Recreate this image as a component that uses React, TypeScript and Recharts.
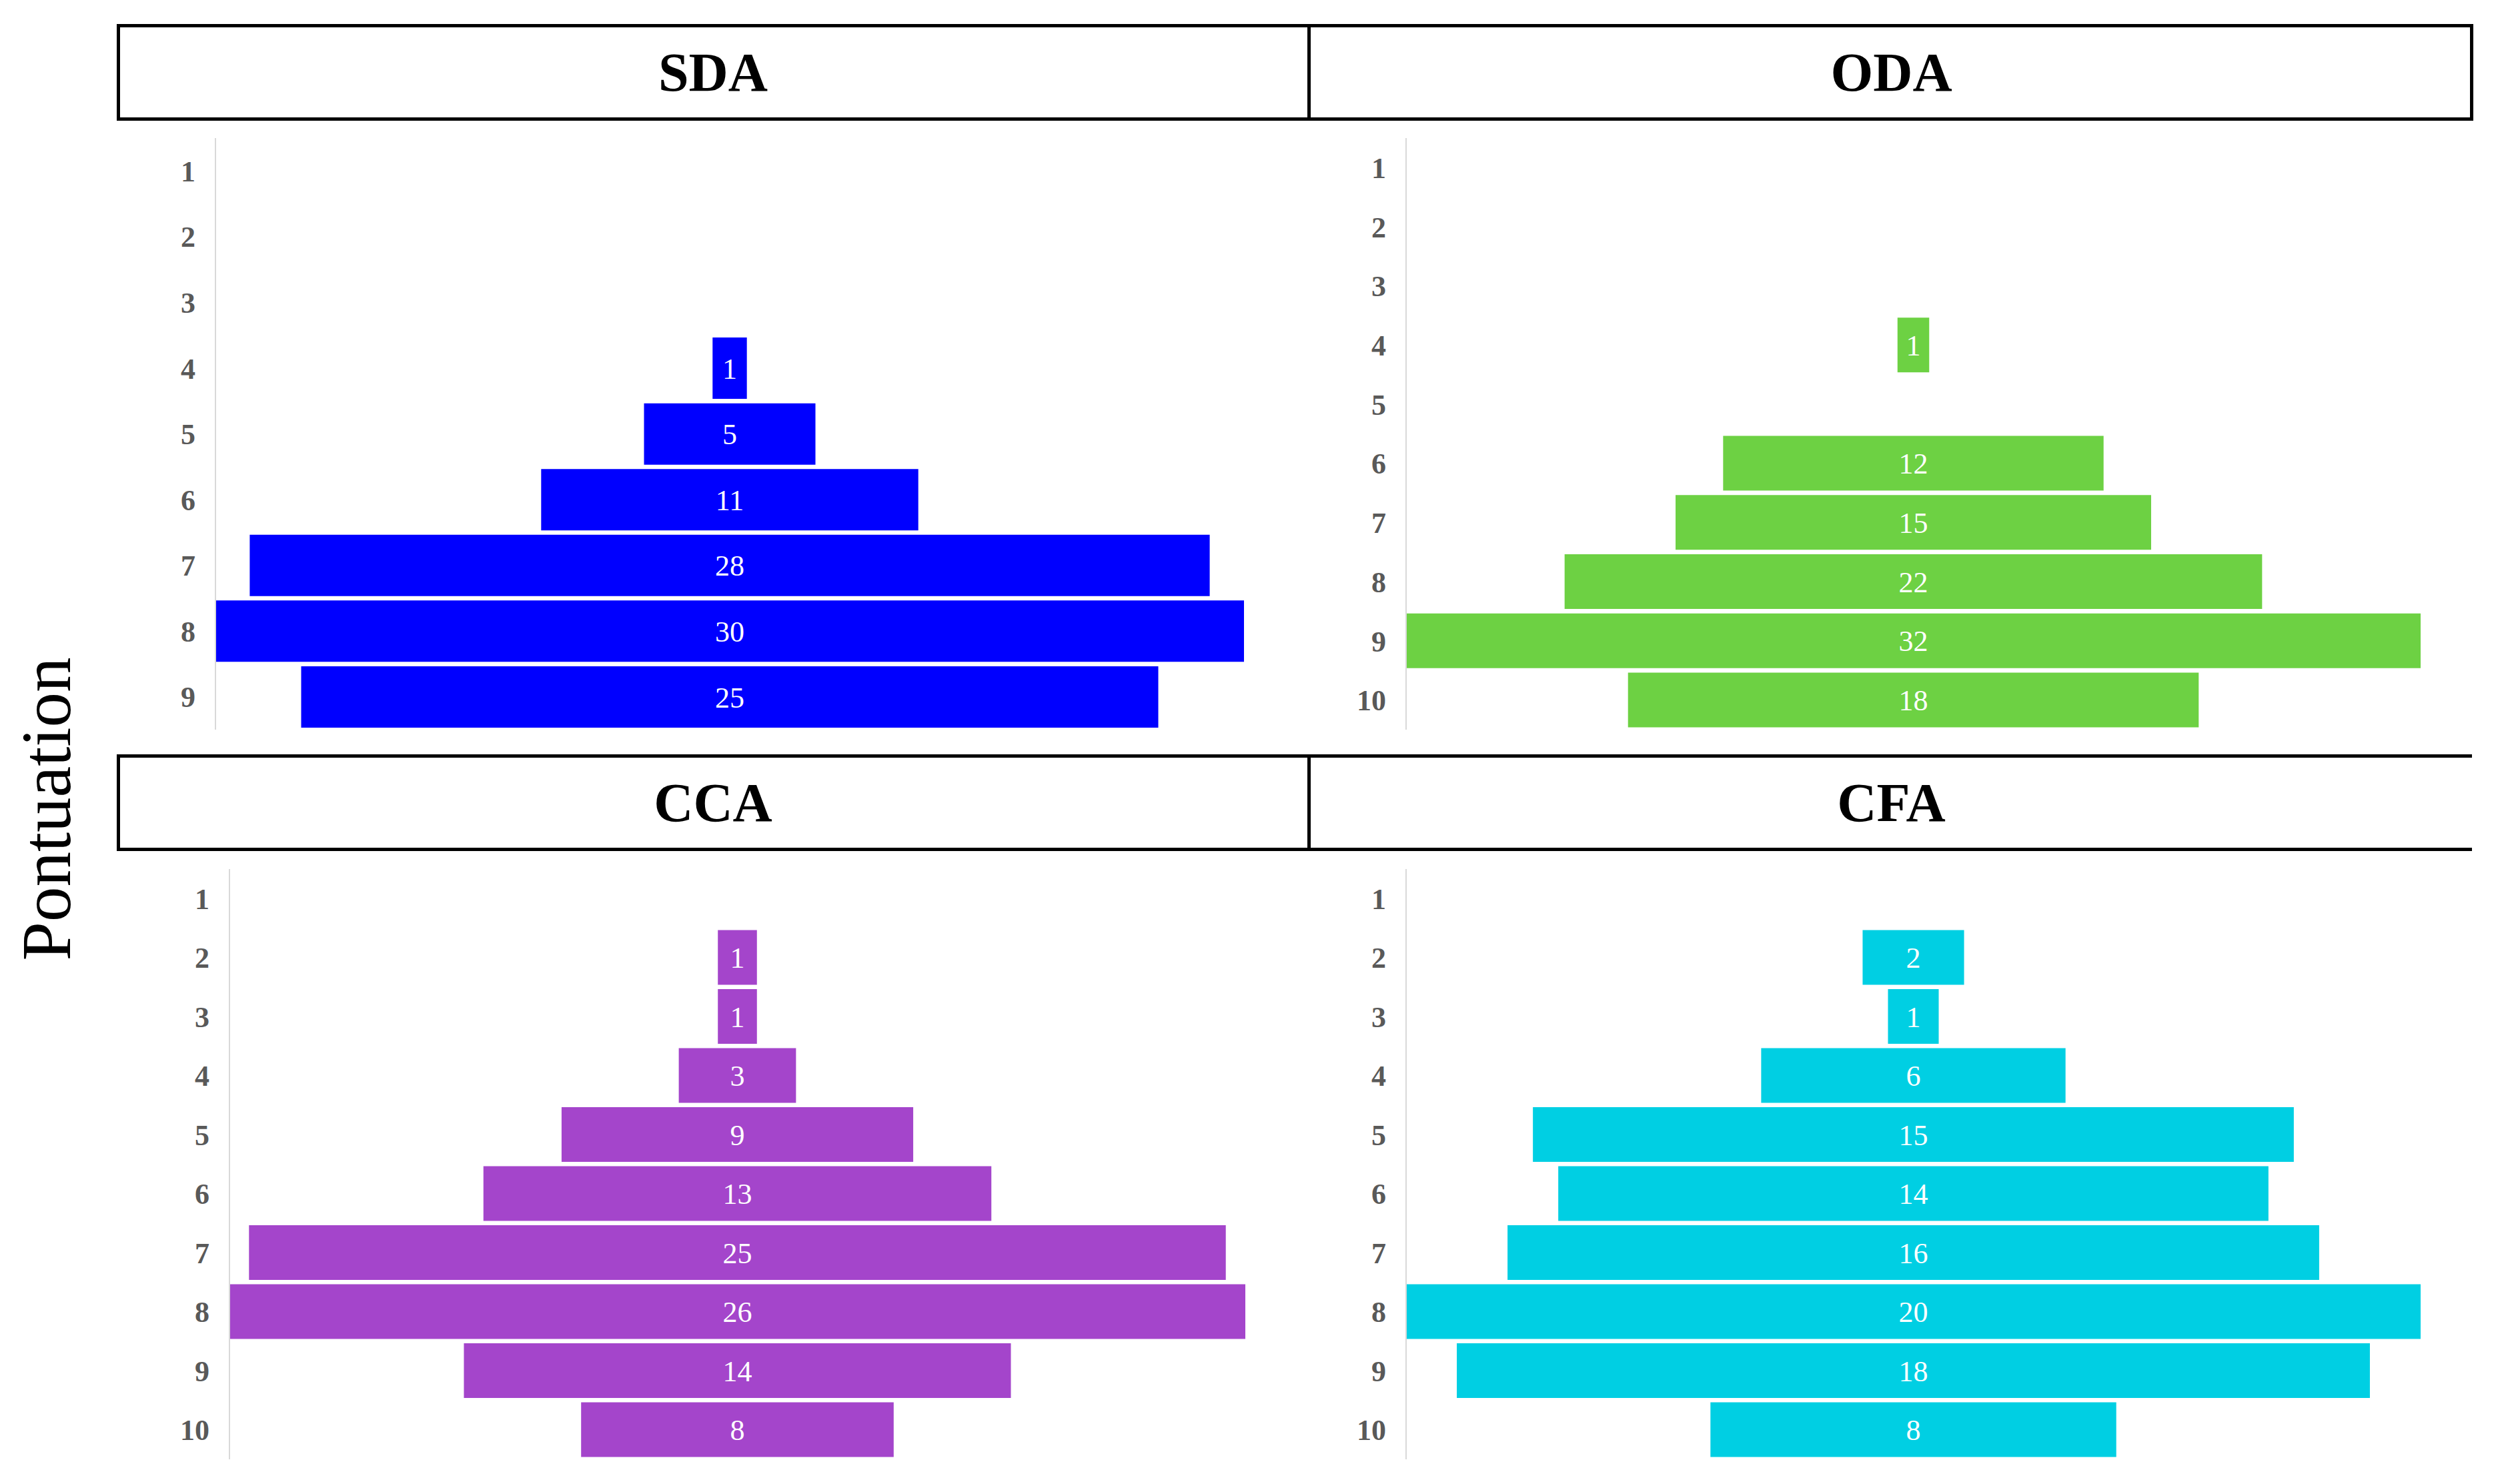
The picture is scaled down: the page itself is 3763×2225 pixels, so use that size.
import React from 'react';
import { BarChart, Bar, XAxis, YAxis, LabelList } from 'recharts';

const sdaScores = ['1', '2', '3', '4', '5', '6', '7', '8', '9'];
const sdaValues = [0, 0, 0, 1, 5, 11, 28, 30, 25];

const odaScores = ['1', '2', '3', '4', '5', '6', '7', '8', '9', '10'];
const odaValues = [0, 0, 0, 1, 0, 12, 15, 22, 32, 18];

const ccaScores = ['1', '2', '3', '4', '5', '6', '7', '8', '9', '10'];
const ccaValues = [0, 1, 1, 3, 9, 13, 25, 26, 14, 8];

const cfaScores = ['1', '2', '3', '4', '5', '6', '7', '8', '9', '10'];
const cfaValues = [0, 2, 1, 6, 15, 14, 16, 20, 18, 8];

const panelTitles = ['SDA', 'ODA', 'CCA', 'CFA'];
const yAxisTitle = 'Pontuation';

const SERIF = '"Liberation Serif", "Times New Roman", serif';

function buildRows(scores: string[], values: number[]) {
  const max = Math.max(...values);
  return scores.map((s, i) => ({ score: s, offset: (max - values[i]) / 2, value: values[i] }));
}

type PanelProps = {
  scores: string[];
  values: number[];
  color: string;
  left: number;
  top: number;
  width: number;
  height: number;
};

function Panel({ scores, values, color, left, top, width, height }: PanelProps) {
  const rows = buildRows(scores, values);
  const max = Math.max(...values);
  return (
    <div style={{ position: 'absolute', left, top, width, height }}>
      <BarChart
        width={width}
        height={height}
        data={rows}
        layout="vertical"
        barCategoryGap="3.5%"
        margin={{ top: 0, right: 0, bottom: 0, left: 0 }}
      >
        <XAxis type="number" domain={[0, max]} hide />
        <YAxis
          type="category"
          dataKey="score"
          width={100}
          tickLine={false}
          tickMargin={24}
          axisLine={{ stroke: '#d9d9d9', strokeWidth: 2 }}
          tick={{ fill: '#595959', fontSize: 44, fontWeight: 'bold', fontFamily: SERIF }}
          interval={0}
        />
        <Bar dataKey="offset" stackId="a" fill="transparent" isAnimationActive={false} />
        <Bar dataKey="value" stackId="a" fill={color} isAnimationActive={false}>
          <LabelList
            dataKey="value"
            position="center"
            formatter={(v: any) => (v ? String(v) : '')}
            style={{ fill: '#ffffff', fontSize: 44, fontFamily: SERIF }}
          />
        </Bar>
      </BarChart>
    </div>
  );
}

const lineStyle = { position: 'absolute' as const, background: '#000' };

function HeaderText({ text, left, width, top }: { text: string; left: number; width: number; top: number }) {
  return (
    <div
      style={{
        position: 'absolute',
        left,
        width,
        top,
        height: 145,
        display: 'flex',
        alignItems: 'center',
        justifyContent: 'center',
        fontFamily: SERIF,
        fontWeight: 'bold',
        fontSize: 82,
        color: '#000',
        lineHeight: 1,
      }}
    >
      {text}
    </div>
  );
}

export default function App() {
  return (
    <div
      style={{
        position: 'absolute',
        left: 0,
        top: 0,
        width: 3763,
        height: 2225,
        background: '#fff',
        overflow: 'hidden',
      }}
    >
      {/* Row 1 header */}
      <div style={{ ...lineStyle, left: 175, top: 36, width: 3533, height: 5 }} />
      <div style={{ ...lineStyle, left: 175, top: 176, width: 3533, height: 5 }} />
      <div style={{ ...lineStyle, left: 175, top: 36, width: 5, height: 145 }} />
      <div style={{ ...lineStyle, left: 1960, top: 36, width: 5, height: 145 }} />
      <div style={{ ...lineStyle, left: 3703, top: 36, width: 5, height: 145 }} />
      <HeaderText text={panelTitles[0]} left={175} width={1788} top={36} />
      <HeaderText text={panelTitles[1]} left={1963} width={1745} top={36} />

      {/* Row 2 header */}
      <div style={{ ...lineStyle, left: 175, top: 1131, width: 3531, height: 5 }} />
      <div style={{ ...lineStyle, left: 175, top: 1271, width: 3531, height: 5 }} />
      <div style={{ ...lineStyle, left: 175, top: 1131, width: 5, height: 145 }} />
      <div style={{ ...lineStyle, left: 1960, top: 1131, width: 5, height: 145 }} />
      <HeaderText text={panelTitles[2]} left={175} width={1788} top={1131} />
      <HeaderText text={panelTitles[3]} left={1963} width={1745} top={1131} />

      {/* Y axis title */}
      <svg style={{ position: 'absolute', left: 0, top: 0 }} width={160} height={2225}>
        <text
          transform="translate(105,1213) rotate(-90)"
          textAnchor="middle"
          fontFamily={SERIF}
          fontSize={105}
          fill="#000"
        >
          {yAxisTitle}
        </text>
      </svg>

      <Panel scores={sdaScores} values={sdaValues} color="#0000FF" left={223} top={207} width={1642} height={887} />
      <Panel scores={odaScores} values={odaValues} color="#6DD143" left={2008} top={207} width={1621} height={887} />
      <Panel scores={ccaScores} values={ccaValues} color="#A445CB" left={244} top={1303} width={1623} height={885} />
      <Panel scores={cfaScores} values={cfaValues} color="#00CFE3" left={2008} top={1303} width={1621} height={885} />
    </div>
  );
}
